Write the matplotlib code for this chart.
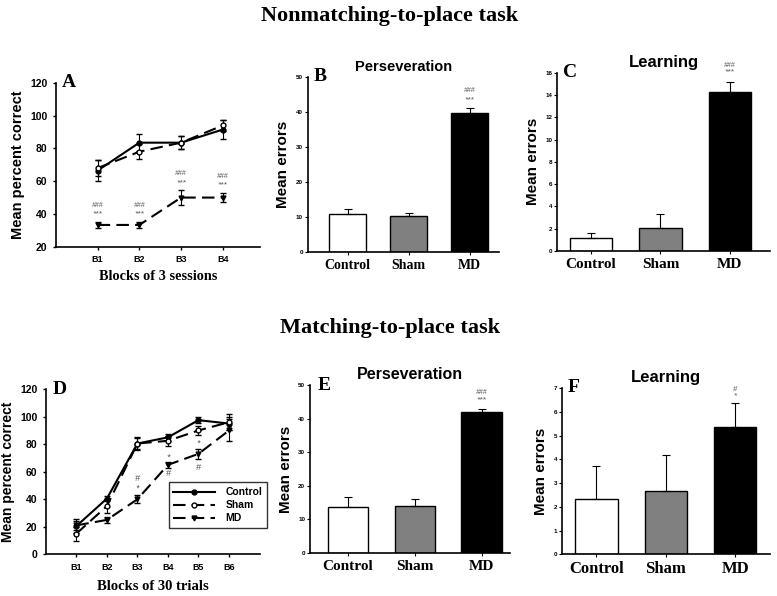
import numpy as np
import matplotlib.pyplot as plt

SERIF = 'Liberation Serif'
SANS = 'Liberation Sans'

# ---- data ----
blocks_a = ['B1', 'B2', 'B3', 'B4']
a_control = [66.5, 83.5, 83.5, 91.5]
a_control_err = [6.5, 5, 4, 6]
a_sham = [68, 78, 83.5, 94]
a_sham_err = [5, 4.5, 4, 3.5]
a_md = [33.3, 33.3, 50, 50]
a_md_err = [2, 2, 4.5, 3]

blocks_d = ['B1', 'B2', 'B3', 'B4', 'B5', 'B6']
d_control = [20.5, 40.5, 80.5, 85, 97.5, 95]
d_control_err = [5, 2, 5, 2.5, 2, 5]
d_sham = [15, 35, 80.5, 82.5, 90, 96]
d_sham_err = [5, 5, 4, 3.5, 3, 6]
d_md = [21, 25, 40, 65, 73, 90]
d_md_err = [3, 2, 3, 2, 3.5, 8]

groups = ['Control', 'Sham', 'MD']
bar_colors = ['white', '#808080', 'black']
b_vals = [11.0, 10.3, 39.6]
b_err = [1.3, 0.9, 1.4]
c_vals = [1.15, 2.05, 14.3]
c_err = [0.45, 1.25, 0.85]
e_vals = [13.7, 13.9, 41.9]
e_err = [3.1, 2.3, 1.0]
f_vals = [2.33, 2.67, 5.37]
f_err = [1.37, 1.5, 1.0]

fig = plt.figure(figsize=(7.77, 5.96), dpi=100)


def style_axes(ax):
    for s in ['top', 'right']:
        ax.spines[s].set_visible(False)
    for s in ['left', 'bottom']:
        ax.spines[s].set_linewidth(1.2)


def line_panel(ax, labels, ctrl, ctrl_e, sham, sham_e, md, md_e, xmax, legend=False):
    x = np.arange(1, len(labels) + 1)
    dash = (0, (6, 3))
    ax.errorbar(x, ctrl, yerr=ctrl_e, fmt='none', ecolor='black', capsize=2.5, elinewidth=0.8)
    ax.errorbar(x, sham, yerr=sham_e, fmt='none', ecolor='black', capsize=2.5, elinewidth=0.8)
    ax.errorbar(x, md, yerr=md_e, fmt='none', ecolor='black', capsize=2.5, elinewidth=0.8)
    ax.plot(x, ctrl, color='black', marker='o', ms=3.5, lw=1.5, label='Control')
    ax.plot(x, sham, color='black', marker='o', ms=3.5, mfc='white', lw=1.5, ls=dash, label='Sham')
    ax.plot(x, md, color='black', marker='v', ms=3.5, lw=1.5, ls=dash, label='MD')
    ax.set_xlim(0, xmax)
    ax.set_xticks(x)
    ax.set_xticklabels(labels, fontfamily=SANS, fontweight='bold', fontsize=6.5)
    ax.tick_params(axis='both', length=2.5, width=1)
    style_axes(ax)
    if legend:
        leg = ax.legend(loc='upper left', bbox_to_anchor=(0.575, 0.435),
                        frameon=True, fancybox=False,
                        prop={'family': SANS, 'weight': 'bold', 'size': 7.5},
                        handlelength=4.0, borderpad=0.45, labelspacing=0.3,
                        handletextpad=1.0, borderaxespad=0)
        leg.get_frame().set_edgecolor('black')
        leg.get_frame().set_linewidth(1)
    return x


def bar_panel(ax, vals, errs, ymax, step, title, title_size, cat_size, xlim):
    x = np.arange(len(groups))
    ax.bar(x, vals, width=0.61, color=bar_colors, edgecolor='black', linewidth=1)
    ax.errorbar(x, vals, yerr=[np.zeros(len(vals)), errs], fmt='none',
                ecolor='black', elinewidth=0.8, capsize=3, capthick=0.8)
    ax.set_xlim(*xlim)
    ax.set_ylim(0, ymax)
    ax.set_yticks(np.arange(0, ymax + step / 2, step))
    for t in ax.get_yticklabels():
        t.set_fontfamily(SANS)
        t.set_fontweight('bold')
        t.set_fontsize(4.5)
    ax.set_xticks(x)
    ax.set_xticklabels(groups, fontfamily=SERIF, fontweight='bold', fontsize=cat_size)
    ax.tick_params(axis='y', length=2, width=0.8, pad=1.5)
    ax.tick_params(axis='x', length=2, width=0.8, pad=3)
    ax.set_ylabel('Mean errors', fontfamily=SANS, fontweight='bold', fontsize=11, labelpad=4)
    ax.set_title(title, fontfamily=SANS, fontweight='bold', fontsize=title_size, pad=4)
    style_axes(ax)
    return x


def mark(ax, x, y, txt, size=5.5):
    ax.text(x, y, txt, ha='center', va='center', fontsize=size, color='#555555',
            fontstyle='italic', clip_on=False, fontfamily=SANS)


# ---- Panel A ----
axA = fig.add_axes([0.072, 0.586, 0.263, 0.275])
xa = line_panel(axA, blocks_a, a_control, a_control_err, a_sham, a_sham_err,
                a_md, a_md_err, 4.9)
axA.set_ylim(20, 120)
axA.set_yticks(range(20, 121, 20))
for t in axA.get_yticklabels():
    t.set_fontfamily(SANS); t.set_fontweight('bold'); t.set_fontsize(7.5)
axA.set_ylabel('Mean percent correct', fontfamily=SANS, fontweight='bold', fontsize=10.5)
axA.set_xlabel('Blocks of 3 sessions', fontfamily=SERIF, fontweight='bold', fontsize=10.3, labelpad=4)
for xi, m, e in zip(xa, a_md, a_md_err):
    mark(axA, xi, m + e + 4.5, '***', 6)
    mark(axA, xi, m + e + 10, '###', 5)

# ---- Panel B ----
axB = fig.add_axes([0.396, 0.577, 0.246, 0.294])
xb = bar_panel(axB, b_vals, b_err, 50, 10, 'Perseveration', 10.5, 10, (-0.66, 2.48))
mark(axB, xb[2], b_vals[2] + b_err[2] + 2.3, '***', 6)
mark(axB, xb[2], b_vals[2] + b_err[2] + 5.0, '###', 5)

# ---- Panel C ----
axC = fig.add_axes([0.717, 0.579, 0.274, 0.299])
xc = bar_panel(axC, c_vals, c_err, 16, 2, 'Learning', 12, 11, (-0.49, 2.58))
mark(axC, xc[2], c_vals[2] + c_err[2] + 0.9, '***', 6)
mark(axC, xc[2], c_vals[2] + c_err[2] + 1.5, '###', 5)

# ---- Panel D ----
axD = fig.add_axes([0.059, 0.070, 0.275, 0.277])
xd = line_panel(axD, blocks_d, d_control, d_control_err, d_sham, d_sham_err,
                d_md, d_md_err, 7.0, legend=True)
axD.set_ylim(0, 120)
axD.set_yticks(range(0, 121, 20))
for t in axD.get_yticklabels():
    t.set_fontfamily(SANS); t.set_fontweight('bold'); t.set_fontsize(7.5)
axD.set_ylabel('Mean percent correct', fontfamily=SANS, fontweight='bold', fontsize=10)
axD.set_xlabel('Blocks of 30 trials', fontfamily=SERIF, fontweight='bold', fontsize=10.5, labelpad=6)
mark(axD, xd[2], d_md[2] + 15, '#', 6.5)
mark(axD, xd[2], d_md[2] + 8, '*', 6.5)
mark(axD, xd[3], d_md[3] + 5.5, '*', 6.5)
mark(axD, xd[3], d_md[3] - 6, '#', 6.5)
mark(axD, xd[4], d_md[4] + 7.5, '*', 6.5)
mark(axD, xd[4], d_md[4] - 10, '#', 6.5)

# ---- Panel E ----
axE = fig.add_axes([0.399, 0.072, 0.257, 0.282])
xe = bar_panel(axE, e_vals, e_err, 50, 10, 'Perseveration', 11.5, 11, (-0.57, 2.42))
mark(axE, xe[2], e_vals[2] + e_err[2] + 2.6, '***', 6)
mark(axE, xe[2], e_vals[2] + e_err[2] + 5.0, '###', 5)

# ---- Panel F ----
axF = fig.add_axes([0.723, 0.070, 0.268, 0.279])
xf = bar_panel(axF, f_vals, f_err, 7, 1, 'Learning', 12, 12, (-0.5, 2.5))
mark(axF, xf[2], f_vals[2] + f_err[2] + 0.28, '*', 5.5)
mark(axF, xf[2], f_vals[2] + f_err[2] + 0.58, '#', 5.5)

# ---- panel letters ----
for ax, letter, dx in [(axA, 'A', 0.03), (axB, 'B', 0.03), (axC, 'C', 0.03),
                       (axD, 'D', 0.03), (axE, 'E', 0.04), (axF, 'F', 0.03)]:
    ax.text(dx, 1.0, letter, transform=ax.transAxes, fontfamily=SERIF,
            fontweight='bold', fontsize=14, ha='left', va='center', clip_on=False)

fig.text(0.502, 0.973, 'Nonmatching-to-place task', ha='center', va='center',
         fontfamily=SERIF, fontweight='bold', fontsize=16)
fig.text(0.502, 0.449, 'Matching-to-place task', ha='center', va='center',
         fontfamily=SERIF, fontweight='bold', fontsize=16)

fig.savefig('out.png', dpi=100)
